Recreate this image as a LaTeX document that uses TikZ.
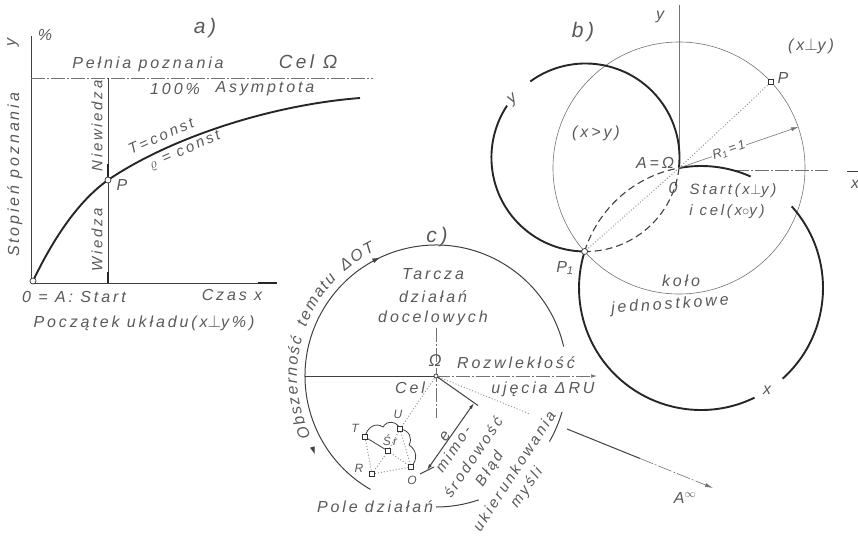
\documentclass[tikz,border=0pt]{standalone}
\usepackage{fontspec}
\setmainfont{Liberation Sans}
\newfontfamily\hand[LetterSpace=18]{Liberation Sans}
\usetikzlibrary{arrows.meta,decorations.markings,decorations.text,calc}
\begin{document}
\begin{tikzpicture}[x=1pt,y=-1pt,
 lbl/.style={font=\hand\itshape\fontsize{16}{18}\selectfont, text=black!65, inner sep=1pt},
 sml/.style={font=\hand\itshape\fontsize{15}{17}\selectfont, text=black!65, inner sep=1pt},
 tny/.style={font=\hand\itshape\fontsize{12}{14}\selectfont, text=black!65, inner sep=1pt},
 big/.style={font=\hand\itshape\fontsize{21}{24}\selectfont, text=black!65, inner sep=1pt},
 ln/.style={draw=black!75, line width=1pt},
 thk/.style={draw=black!85, line width=1.9pt},
 thn/.style={draw=black!55, line width=0.6pt},
 dashdot/.style={dash pattern=on 14pt off 2pt on 2pt off 2pt},
 dots/.style={draw=black!45, line width=0.9pt, dash pattern=on 1pt off 2pt},
 lens/.style={draw=black!75, line width=1.1pt, dash pattern=on 7pt off 4pt},
 mksq/.style={draw=black!80, fill=white, line width=0.7pt, rectangle, minimum size=5pt, inner sep=0pt},
 mkci/.style={draw=black!80, fill=white, line width=0.7pt, circle, minimum size=6pt, inner sep=0pt},
]
\path[use as bounding box] (0,0) rectangle (858,535);

%%%%%%%%%%%%%%%% a)
\coordinate (aO) at (31,283);
\coordinate (aYt) at (31,36);
\coordinate (aXe) at (277,283);
\coordinate (aXk) at (258,283);
\coordinate (aH0) at (31,78);
\coordinate (aH1) at (373,78);
\coordinate (aVt) at (108,78);
\coordinate (aVb) at (108,283);
\coordinate (aVk) at (108,272);
\coordinate (aP) at (108,180);
\coordinate (aPk) at (108,164);
\coordinate (aA) at (33,281);
\coordinate (aE) at (360,98);
\draw[ln] (aYt) -- (aO) -- (aXe);
\draw[thk] (aXk) -- (aXe);
\draw[thn, dashdot] (aH0) -- (aH1);
\draw[ln] (aVt) -- (aVb);
\draw[thk] (aVk) -- (aVb);
\draw[thk] (aPk) -- (aP);
\draw[thk] (aA) .. controls (55,235) and (80,200) .. (aP) .. controls (170,138) and (270,105) .. (aE);
\node[mkci] (aAm) at (aA) {};
\node[mkci] (aPm) at (aP) {};

\node[lbl] (aPct) at (45,35) {\%};
\node[lbl, rotate=90] (aYl) at (13,42) {y};
\node[big] (aTit) at (205,28) {a)};
\node[lbl] (aPel) at (148,64) {Pełnia poznania};
\node[lbl, font=\hand\itshape\fontsize{19}{21}\selectfont] (aCel) at (308,62) {Cel Ω};
\node[lbl] (a100) at (175,89) {100\%};
\node[lbl] (aAsy) at (265,89) {Asymptota};
\node[sml, rotate=24] (aT) at (161,136) {T=const};
\node[sml, rotate=24] (aRho) at (185,151) {$\varrho$ = const};
\node[sml, rotate=90] (aNie) at (97,126) {Niewiedza};
\node[lbl] (aPl) at (122,185) {P};
\node[sml, rotate=90] (aWie) at (97,240) {Wiedza};
\node[lbl, rotate=90] (aSto) at (15,175) {Stopień poznania};
\node[lbl] (aSta) at (74,297) {0 = A: Start};
\node[lbl] (aCz) at (232,295) {Czas x};
\node[lbl] (aPoc) at (144,323) {Początek układu(x$\perp$y\%)};

%%%%%%%%%%%%%%%% b)
\coordinate (bO) at (679,168);
\coordinate (bP1) at (584.6,251.5);
\coordinate (bP) at ($(bO)+(-43:126)$);
\coordinate (xc) at (701,288);
\coordinate (yc) at (585.5,157.5);
\coordinate (bYt) at (679,5);
\coordinate (bX0) at (735,170);
\coordinate (bX1) at (828,170);
\coordinate (bX2) at (847,171);
\coordinate (bX3) at (858,171);
\coordinate (bR) at ($(bO)+(-19:126)$);
\coordinate (xa2) at ($(xc)+(-42:122)$);
\coordinate (xa3) at ($(xc)+(64:122)$);
\coordinate (ya2) at ($(yc)+(234:94)$);

\draw[thn] (bO) circle[radius=126];
\draw[thn] (bYt) -- (bO);
\draw[thn, dashdot] (bX0) -- (bX1);
\draw[ln] (bX2) -- (bX3);
\draw[thk] (bO) arc[start angle=259.6, end angle=294, radius=122];
\draw[thk] (xa2) arc[start angle=-42, end angle=48, radius=122];
\draw[thk] (xa3) arc[start angle=64, end angle=197.4, radius=122];
\draw[lens] (bP1) arc[start angle=197.4, end angle=259.6, radius=122];
\draw[thk] (bP1) arc[start angle=90.5, end angle=213.5, radius=94];
\draw[thk] (ya2) arc[start angle=234, end angle=366.4, radius=94];
\draw[lens] (bO) arc[start angle=6.4, end angle=90.5, radius=94];
\draw[dots] (bO) -- (bP);
\draw[dots] (bO) -- (bP1);
\draw[thn, -{Latex[length=7pt,width=4pt]}] (bO) -- node[pos=0.42, fill=white, sloped, tny, font=\hand\itshape\fontsize{13}{15}\selectfont] (bRl) {R\textsubscript{1}\,=\,1} (bR);
\node[mksq] (bPm) at (bP) {};
\node[mkci] (bP1m) at (bP1) {};

\node[big] (bTit) at (583,32) {b)};
\node[lbl] (bYl) at (660,17) {y};
\node[lbl] (bXY) at (811,46) {(x$\perp$y)};
\node[lbl] (bPl) at (783,78) {P};
\node[lbl, rotate=40] (bYc) at (513,100) {y};
\node[lbl] (bXgy) at (596,133) {(x>y)};
\node[lbl] (bAO) at (655,163) {A=Ω};
\node[lbl] (bOl) at (673,188) {0};
\node[sml] (bSt) at (733,191) {Start(x$\perp$y)};
\node[sml] (bIc) at (727,212) {i cel(x$\circ$y)};
\node[lbl] (bP1l) at (565,268) {P\textsubscript{1}};
\node[lbl] (bKo) at (681,281) {koło};
\node[lbl, rotate=4] (bJe) at (670,305) {jednostkowe};
\node[lbl] (bXl) at (767,390) {x};
\node[lbl] (bXr) at (855,184) {x};

%%%%%%%%%%%%%%%% c)
\coordinate (cOm) at (436,376);
\coordinate (cA0) at ($(cOm)+(120:131)$);
\coordinate (cR0) at ($(cOm)+(16:131)$);
\coordinate (cB0) at ($(cOm)+(71:131)$);
\coordinate (cT0) at ($(cOm)+(154:139)$);
\draw[ln, postaction={decorate}, decoration={markings,
   mark=at position 0.55 with {\arrow{Latex[length=8pt,width=5pt]}},
   mark=at position 0.11 with {\arrowreversed{Latex[length=8pt,width=5pt]}}}]
   (cA0) arc[start angle=120, end angle=347, radius=131];
\draw[ln] (cR0) arc[start angle=16, end angle=30, radius=131];
\draw[ln] (cB0) arc[start angle=71, end angle=90, radius=131];
\path[decorate, decoration={text along path, text align=fit to path,
   text={|\hand\itshape\fontsize{16}{18}\selectfont\color{black!65}|Obszerność tematu ΔOT}}]
   (cT0) arc[start angle=154, end angle=244, radius=139];

\coordinate (cL) at (305,376);
\coordinate (cRt) at (597,376);
\coordinate (cVt) at (436,328);
\coordinate (cVb) at (436,418);
\draw[ln] (cL) -- (cOm);
\draw[thn, dashdot, -{Latex[length=6pt,width=3.5pt]}] (cOm) -- (cRt);
\draw[thn, dashdot] (cVt) -- (cVb);

\coordinate (cAinf) at (713,488);
\coordinate (cD1) at ($(cOm)!0.34!(cAinf)$);
\coordinate (cD2) at ($(cOm)!0.473!(cAinf)$);
\coordinate (cD3) at ($(cOm)!0.736!(cAinf)$);
\draw[dots] (cOm) -- (cD1);
\draw[ln] (cD2) -- (cD3);
\draw[thn, dashdot, -{Latex[length=8pt,width=4pt]}] (cD3) -- (cAinf);

% eccentricity
\coordinate (cE0) at (478,405.5);
\coordinate (cE1) at (474,403);
\coordinate (cE2) at (427,470);
\coordinate (cK1) at (420,474);
\coordinate (cK2) at (434,467);
\draw[ln] (cOm) -- (cE0);
\draw[ln, {Latex[length=6pt,width=3.5pt]}-{Latex[length=6pt,width=3.5pt]}] (cE1) -- (cE2);
\draw[ln] (cK1) -- (cK2);

% cloud
\coordinate (cT) at (365,437);
\coordinate (cU) at (400,429);
\coordinate (cS) at (388,451);
\coordinate (cRr) at (372,474);
\coordinate (cO) at (411,467);
\draw[ln, line width=0.8pt] (cT) .. controls (367,427) and (376,422) .. (383,427)
   .. controls (387,420) and (397,421) .. (cU)
   .. controls (409,430) and (413,438) .. (409,445)
   .. controls (417,450) and (418,460) .. (cO);
\draw[dots] (cT) -- (cRr);
\draw[dots] (cRr) -- (cO);
\draw[dots] (cRr) -- (cS);
\draw[dots] (cS) -- (cO);
\draw[dots] (cS) -- (cU);
\draw[dots] (cU) -- (cO);
\draw[dots] (cU) -- (cOm);
\draw[ln, line width=0.8pt] (cT) -- (cS);
\node[mksq] (cTm) at (cT) {};
\node[mksq] (cUm) at (cU) {};
\node[mksq] (cSm) at (cS) {};
\node[mksq] (cRm) at (cRr) {};
\node[mksq] (cOmk) at (cO) {};
\node[mkci, minimum size=4pt] (cOmm) at (cOm) {};

\node[big] (cTit) at (437,237) {c)};
\node[lbl] (cTa) at (433,274) {Tarcza};
\node[lbl] (cDz) at (433,297) {działań};
\node[lbl] (cDo) at (433,318) {docelowych};
\node[lbl, font=\hand\itshape\fontsize{17}{19}\selectfont] (cOl) at (435,361) {Ω};
\node[lbl] (cCel) at (410,388) {Cel};
\node[lbl] (cRoz) at (516,363) {Rozwlekłość};
\node[lbl] (cUje) at (543,389) {ujęcia ΔRU};
\node[lbl, rotate=56] (cEl) at (445,436) {e};
\node[sml, rotate=56] (cMi) at (453,449) {mimo-};
\node[sml, rotate=56] (cSr) at (473,457) {środowość};
\node[sml, rotate=57] (cBl) at (490,469) {Błąd};
\node[sml, rotate=57] (cUk) at (514,471) {ukierunkowania};
\node[sml, rotate=55] (cMy) at (527,488) {myśli};
\node[lbl] (cPole) at (375,507) {Pole działań};
\node[lbl] (cAil) at (685,498) {A$^{\infty}$};
\node[tny] (cTl) at (355,428) {T};
\node[tny] (cUl) at (398,414) {U};
\node[tny] (cSl) at (390,440) {Śr};
\node[tny] (cRl) at (359,468) {R};
\node[tny] (cOl2) at (412,480) {O};
\end{tikzpicture}
\end{document}
